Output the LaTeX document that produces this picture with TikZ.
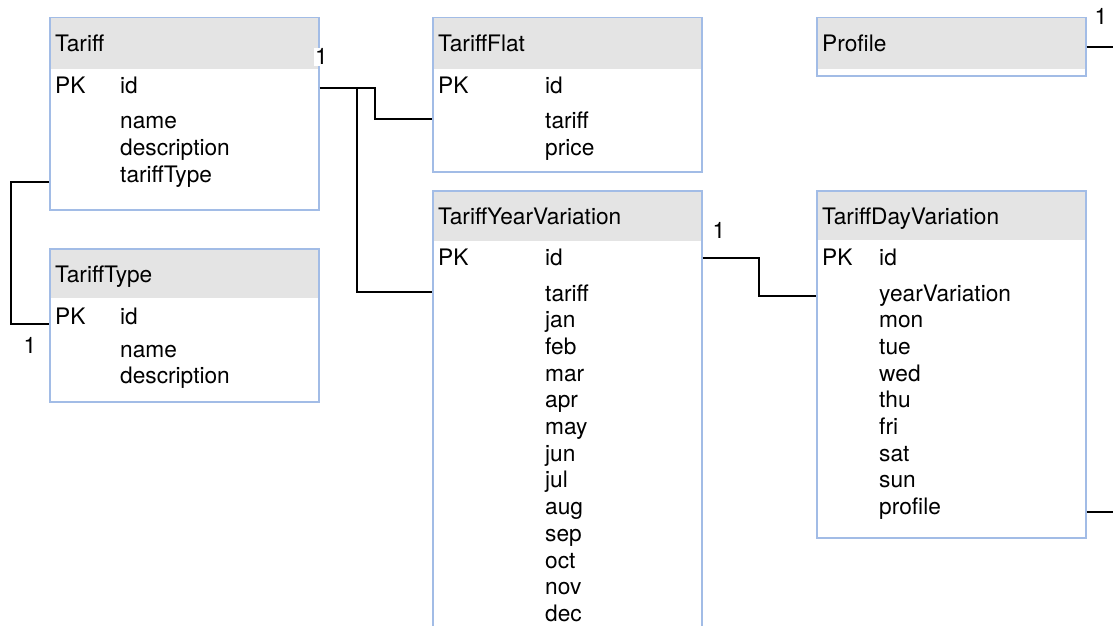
\documentclass[tikz,border=0pt]{standalone}
\usepackage{fontspec}
\setmainfont{TeX Gyre Heros}
\definecolor{tblblue}{HTML}{A2BCE6}
\definecolor{hdrgray}{HTML}{E4E4E4}
\tikzset{
  tbl/.style={draw=tblblue, line width=1.5pt, anchor=north west, inner sep=0pt, minimum width=269pt},
  hdr/.style={fill=hdrgray, anchor=north west, inner sep=0pt, minimum width=269pt},
  fld/.style={anchor=base west, inner sep=0pt},
  card/.style={anchor=base, inner sep=1pt, fill=white},
  link/.style={line width=1.4pt}
}

\begin{document}
\begin{tikzpicture}[x=1pt,y=-1pt,font=\fontsize{22.7}{26.7}\selectfont]
\useasboundingbox (0,0) rectangle (1113,626);

% Tariff
\node[hdr, minimum height=52pt] (tariff-hd) at (49,17) {};
\node[tbl, minimum height=192pt] (tariff) at (49,17) {};
\node[fld] (tariff-title) at (55,52) {Tariff};
\node[fld] (tariff-pk) at (55,93) {PK};
\node[fld] (tariff-id) at (120,93) {id};
\foreach \f [count=\i] in {name,description,tariffType}
  \node[fld] (tariff-f\i) at (120,{128+27*(\i-1)}) {\f};

% TariffType
\node[hdr, minimum height=50pt] (ttype-hd) at (49,248) {};
\node[tbl, minimum height=153pt] (ttype) at (49,248) {};
\node[fld] (ttype-title) at (55,282) {TariffType};
\node[fld] (ttype-pk) at (55,324) {PK};
\node[fld] (ttype-id) at (120,324) {id};
\foreach \f [count=\i] in {name,description}
  \node[fld] (ttype-f\i) at (120,{357+26.5*(\i-1)}) {\f};

% TariffFlat
\node[hdr, minimum height=52pt] (tflat-hd) at (432,17) {};
\node[tbl, minimum height=154pt] (tflat) at (432,17) {};
\node[fld] (tflat-title) at (438,52) {TariffFlat};
\node[fld] (tflat-pk) at (438,93) {PK};
\node[fld] (tflat-id) at (545,93) {id};
\foreach \f [count=\i] in {tariff,price}
  \node[fld] (tflat-f\i) at (545,{128+27*(\i-1)}) {\f};

% Profile
\node[hdr, minimum height=52pt] (profile-hd) at (816,17) {};
\node[tbl, minimum height=58pt] (profile) at (816,17) {};
\node[fld] (profile-title) at (822,52) {Profile};

% TariffYearVariation (runs past the bottom edge)
\node[hdr, minimum height=51pt] (tyv-hd) at (432,190) {};
\node[tbl, minimum height=460pt] (tyv) at (432,190) {};
\node[fld] (tyv-title) at (438,224) {TariffYearVariation};
\node[fld] (tyv-pk) at (438,265) {PK};
\node[fld] (tyv-id) at (545,265) {id};
\foreach \f [count=\i] in {tariff,jan,feb,mar,apr,may,jun,jul,aug,sep,oct,nov,dec}
  \node[fld] (tyv-f\i) at (545,{301+26.7*(\i-1)}) {\f};

% TariffDayVariation
\node[hdr, minimum height=50pt] (tdv-hd) at (816,190) {};
\node[tbl, minimum height=347pt] (tdv) at (816,190) {};
\node[fld] (tdv-title) at (822,224) {TariffDayVariation};
\node[fld] (tdv-pk) at (822,265) {PK};
\node[fld] (tdv-id) at (879,265) {id};
\foreach \f [count=\i] in {yearVariation,mon,tue,wed,thu,fri,sat,sun,profile}
  \node[fld] (tdv-f\i) at (879,{301+26.7*(\i-1)}) {\f};

% relations
\coordinate (j-flat) at (375,88);
\coordinate (j-year) at (357,88);
\coordinate (j-type) at (11,182);
\coordinate (j-day) at (759,258);
\coordinate (profile-end) at (1113,47);
\coordinate (tdv-end) at (1113,512);

\draw[link] (tariff.east |- j-flat) -- (j-flat) |- (tflat.west |- 0,119);
\draw[link] (j-year) |- (tyv.west |- 0,292);
\draw[link] (tariff.west |- j-type) -- (j-type) |- (ttype.west |- 0,324);
\draw[link] (tyv.east |- j-day) -- (j-day) |- (tdv.west |- 0,296);
\draw[link] (profile.east |- profile-end) -- (profile-end);
\draw[link] (tdv.east |- tdv-end) -- (tdv-end);

% cardinalities
\node[card] (c-tariff) at (321.5,65) {1};
\node[card] (c-ttype) at (30,353) {1};
\node[card] (c-tyv) at (719,238) {1};
\node[card] (c-profile) at (1101,25) {1};
\end{tikzpicture}
\end{document}
